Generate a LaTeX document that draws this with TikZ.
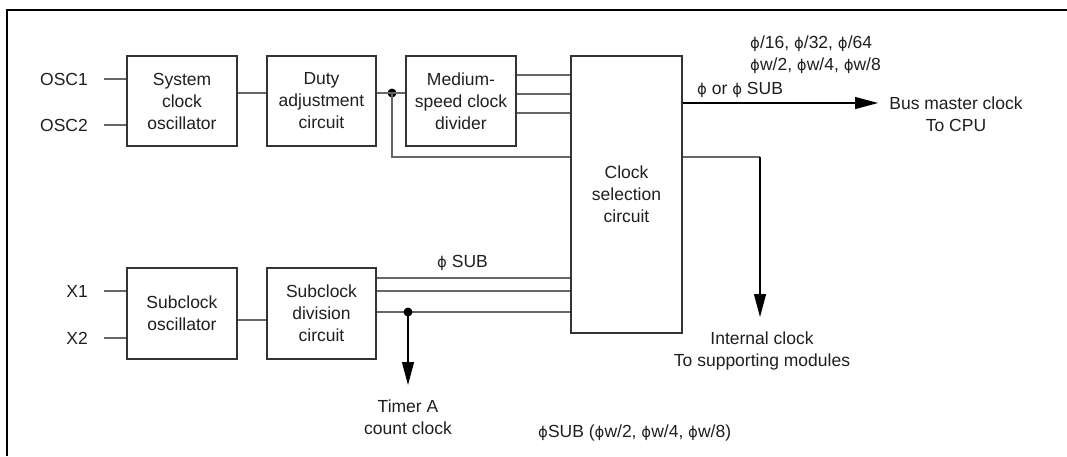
\documentclass[tikz,border=0pt]{standalone}
\usepackage{fontspec}
\setmainfont{Liberation Sans}
\newfontfamily\phifont{DejaVu Sans}[Scale=0.85]
\usetikzlibrary{arrows.meta}
\newcommand{\ph}{{\phifont ϕ}}
\begin{document}
\begin{tikzpicture}[x=1pt,y=-1pt,
  every node/.style={font=\fontsize{17.5}{22}\selectfont, inner sep=0pt, text=black!88},
  blk/.style={draw=black!80, line width=1.3pt, align=center},
  conn/.style={draw=black!60, line width=1.2pt},
  outline/.style={draw=black, line width=1.1pt},
  arr/.style={-{Triangle[length=23pt,width=12pt]}},
  dotn/.style={circle, fill=black, minimum size=9pt, inner sep=0pt},
  lbl/.style={align=center}]
\useasboundingbox (0,0) rectangle (1067,456);
\draw[line width=2.5pt] (7,456) -- (7,10) -- (1067,10);

% blocks
\node[blk, minimum width=110pt, minimum height=90pt] (sco) at (182,101) {System\\clock\\oscillator};
\node[blk, minimum width=109pt, minimum height=90pt] (duty) at (321.5,101) {Duty\\adjustment\\circuit};
\node[blk, minimum width=110pt, minimum height=90pt] (med) at (461,101) {Medium-\\speed clock\\divider};
\node[blk, minimum width=111pt, minimum height=277pt] (sel) at (626.5,194.5) {Clock\\selection\\circuit};
\node[blk, minimum width=110pt, minimum height=91pt] (subo) at (182,313.5) {Subclock\\oscillator};
\node[blk, minimum width=109pt, minimum height=91pt] (subd) at (321.5,313.5) {Subclock\\division\\circuit};

% input labels
\node[anchor=east] (osc1) at (88,79) {OSC1};
\node[anchor=east] (osc2) at (88,125) {OSC2};
\node[anchor=east] (x1) at (88,291) {X1};
\node[anchor=east] (x2) at (88,338) {X2};

\draw[conn] ([xshift=16pt]osc1.east) -- (osc1.east -| sco.west);
\draw[conn] ([xshift=16pt]osc2.east) -- (osc2.east -| sco.west);
\draw[conn] ([xshift=16pt]x1.east) -- (x1.east -| subo.west);
\draw[conn] ([xshift=16pt]x2.east) -- (x2.east -| subo.west);

% system clock chain
\draw[conn] ([yshift=8pt]sco.east) -- ([yshift=8pt]duty.west);
\node[dotn] (d1) at (392,93) {};
\draw[conn] ([yshift=8pt]duty.east) -- ([yshift=8pt]med.west);
\coordinate (c1) at (392,157);
\draw[conn] (d1.center) -- (c1) -- (c1 -| sel.west);
\draw[conn] (med.east |- 0,75) -- (sel.west |- 0,75);
\draw[conn] (med.east |- 0,94) -- (sel.west |- 0,94);
\draw[conn] (med.east |- 0,113) -- (sel.west |- 0,113);

% outputs
\coordinate (busend) at (878,103);
\draw[outline, arr] (sel.east |- busend) -- (busend);
\node[lbl] (bus) at (956,114) {Bus master clock\\To CPU};
\node[anchor=west, align=left] (divs) at (750,55) {\ph/16, \ph/32, \ph/64\\\ph w/2, \ph w/4, \ph w/8};
\node[anchor=west] (phisub) at (697,90) {\ph{} or \ph{} SUB};

\coordinate (ic1) at (760,157);
\coordinate (icend) at (760,317);
\draw[conn] (sel.east |- ic1) -- (ic1);
\draw[outline, arr] (ic1) -- (icend);
\node[lbl] (intc) at (762,351) {Internal clock\\To supporting modules};

% subclock chain
\draw[conn] ([yshift=-6.5pt]subo.east) -- ([yshift=-6.5pt]subd.west);
\draw[conn] (subd.east |- 0,278) -- (sel.west |- 0,278);
\draw[conn] (subd.east |- 0,291) -- (sel.west |- 0,291);
\draw[conn] (subd.east |- 0,312) -- (sel.west |- 0,312);
\node[dotn] (d2) at (408,312) {};
\coordinate (taend) at (408,385);
\draw[outline, arr] (d2.center) -- (taend);
\node[anchor=west] (subl) at (437,263) {\ph{} SUB};
\node[lbl] (timer) at (408,417) {Timer A\\count clock};
\node[anchor=west] (subdiv) at (538,433) {\ph SUB (\ph w/2, \ph w/4, \ph w/8)};
\end{tikzpicture}
\end{document}
